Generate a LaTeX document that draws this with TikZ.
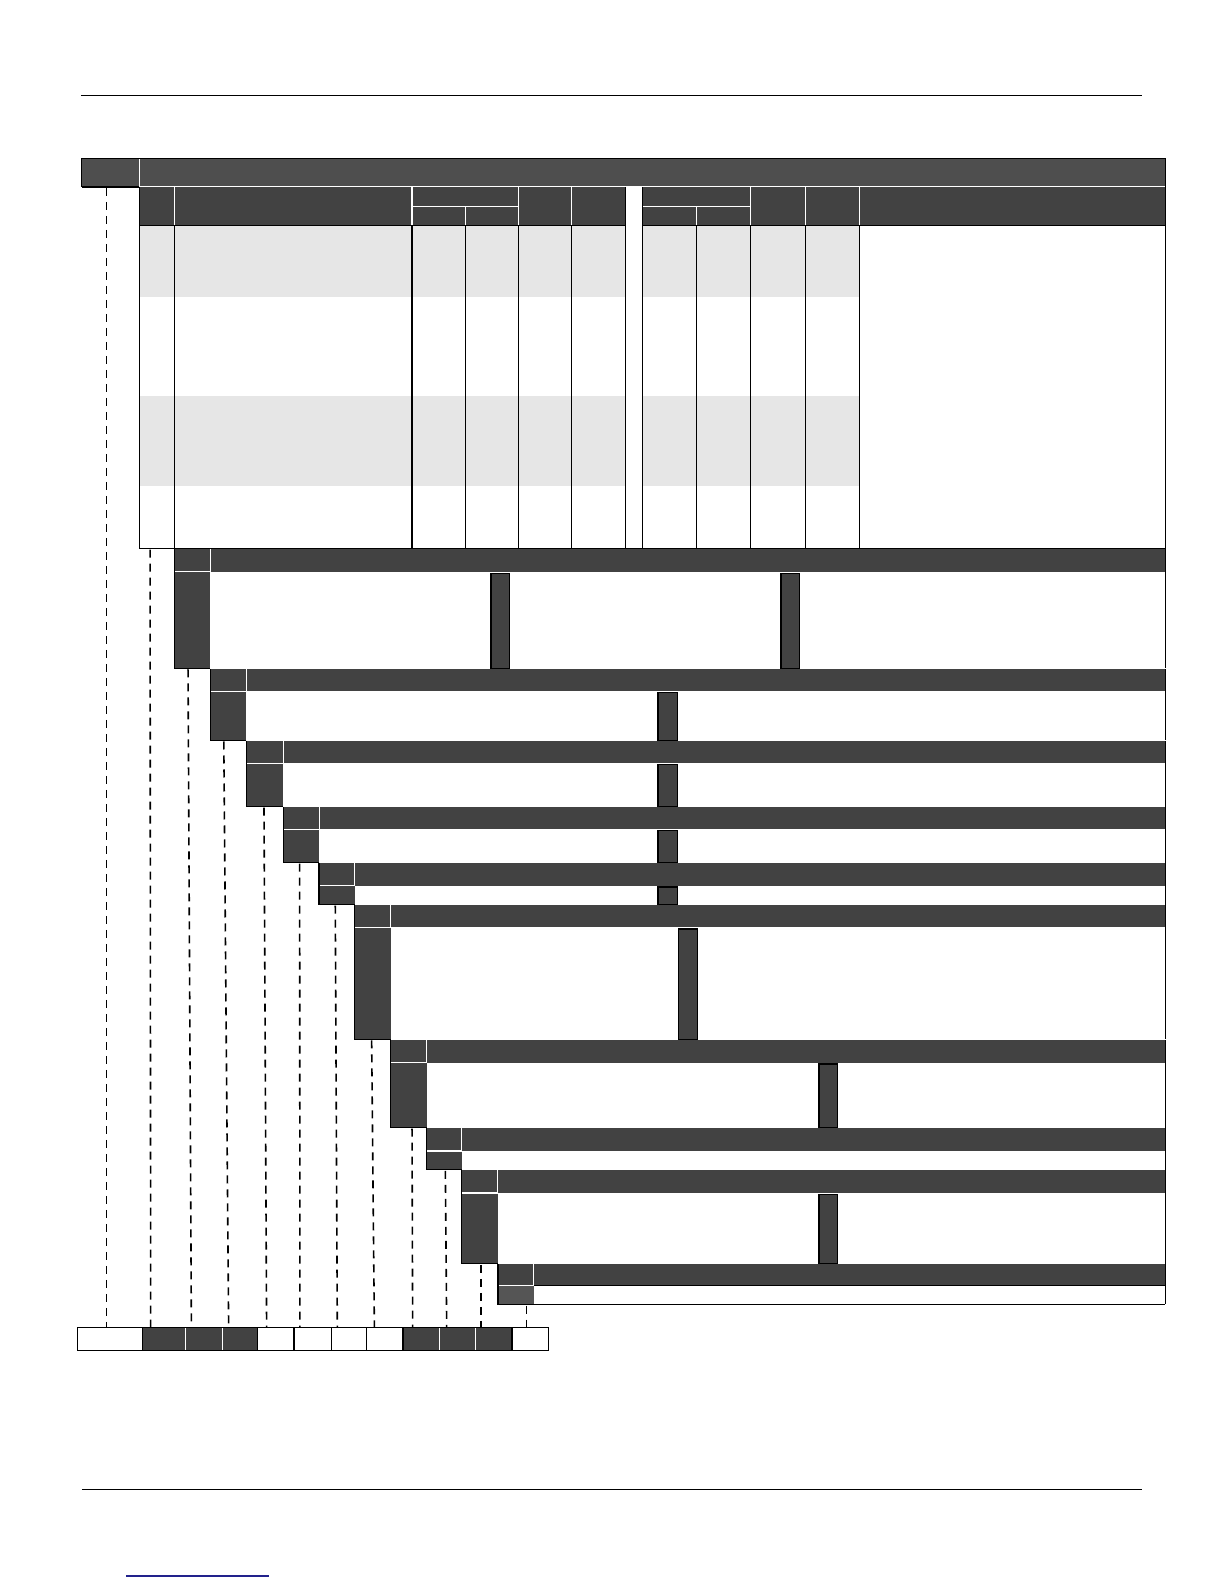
\documentclass[tikz,border=0pt]{standalone}
\usetikzlibrary{calc}
\definecolor{cellfill}{HTML}{424242}
\definecolor{barfill}{HTML}{4E4E4E}
\definecolor{lastfill}{HTML}{555555}
\definecolor{rowshade}{HTML}{E6E6E6}
\definecolor{linkblue}{HTML}{22228C}
\tikzset{
  pagerule/.style={draw=black, line width=0.5pt},
  edge/.style={draw=black, line width=0.65pt},
  split/.style={draw=white, line width=0.6pt},
  innerbar/.style={fill=cellfill, draw=black, line width=0.65pt},
  guide/.style={draw=black, line width=0.8pt, dash pattern=on 4pt off 3pt},
}

\begin{document}
\begin{tikzpicture}[x=0.50495pt, y=-0.5051pt]
                \useasboundingbox (0,0) rectangle (1212,1568);
                \draw[pagerule] (80,95) -- (1131,95);
                \draw[pagerule] (81,1474) -- (1131,1474);
                \draw[linkblue, line width=0.6pt] (125,1560) -- (266,1560);

                \fill[barfill] (81,157) rectangle (1154,185);
                \draw[split] (138,157) -- (138,185);
                \draw[edge] (81,185) -- (81,157) -- (1154,157) -- (1154,543);
                \draw[edge] (81,185) -- (138,185);

                \fill[cellfill] (138,185) rectangle (619.5,223);
                \fill[cellfill] (636.2,185) rectangle (1154,223);
                \foreach \ya/\yb in {223/293.8, 391.8/481.2} {
                    \fill[rowshade] (138,\ya) rectangle (619.5,\yb);
                    \fill[rowshade] (636.2,\ya) rectangle (851.1,\yb);
                }
                \draw[split] (138,185) -- (1154,185);
                \foreach \x in {172.6,408,513.2,566.1,743,797.9,851.1}
                    \draw[split] (\x,185) -- (\x,223);
                \draw[split] (408,204.6) -- (513.2,204.6) (636.2,204.6) -- (743,204.6);
                \draw[split] (460.8,204.6) -- (460.8,223) (689.8,204.6) -- (689.8,223);
                \draw[edge] (138,223) -- (619.5,223) (636.2,223) -- (1154,223);
                \foreach \x in {172.6,408,460.8,513.2,566.1,689.8,743,797.9,851.1}
                    \draw[edge] (\x,223) -- (\x,543);
                \foreach \x in {619.5,636.2}
                    \draw[edge] (\x,185) -- (\x,543);
                \draw[edge] (138,185) -- (138,543) -- (1154,543);

                \foreach \i/\xa/\xb/\ya/\ym/\yb/\c in {1/172.6/208.3/543/566.1/661.5/cellfill,
                        2/208.3/244/662.4/684.3/732.9/cellfill, 3/244/280.5/733.4/755.4/798.4/cellfill,
                        4/280.5/316/798.8/821/854/cellfill, 5/316/351.2/854.2/876.8/895.5/cellfill,
                        6/351.2/386.8/896/918/1028.8/cellfill, 7/386.8/422.5/1029.8/1052/1116.2/cellfill,
                        8/422.5/457/1116.9/1139.4/1158/cellfill, 9/457/493/1158.5/1181/1251/cellfill,
                        10/493/528.5/1251.6/1272.6/1291.3/lastfill} {
                    \fill[cellfill] (\xa,\ya) rectangle (1154,\ym);
                    \fill[\c] (\xa,\ym) rectangle (\xb,\yb);
                    \draw[split] (\xb,\ya) -- (\xb,\ym) (\xa,\ym) -- (\xb,\ym);
                    \draw[edge] (\xa,\ya) -- (\xa,\yb) -- (\xb,\yb);
                    \draw[edge] (1154,\ya) -- (1154,\yb);
                }
                \draw[edge] (528.5,1272.6) -- (1154,1272.6) (528.5,1291.3) -- (1154,1291.3);

                \foreach \ya/\yb/\xa/\xb in {567.4/661.5/486.2/504.7, 567.4/661.5/773.3/791.9,
                        685.2/732.9/651.6/671, 756.5/798.4/651.6/671, 822/854/651.6/671,
                        878/895.5/651.6/671, 919.5/1028.8/672/690.5,
                        1053.2/1116.2/811/829.5, 1182.3/1251/811/829.5}
                    \filldraw[innerbar] (\xa,\ya) rectangle (\xb,\yb);

                \foreach \i/\xa/\xb/\c in {1/77/141/white, 2/141/184/cellfill, 3/184/220/cellfill,
                        4/220/255/cellfill, 5/255/291/white, 6/291/328/white, 7/328/363/white,
                        8/363/399/white, 9/399/435/cellfill, 10/435/471/cellfill,
                        11/471/507/cellfill, 12/507/543/white}
                    \filldraw[edge, fill=\c] (\xa,1314) rectangle (\xb,1337);
                \foreach \x in {184,220,435,471}
                    \draw[split] (\x,1314.6) -- (\x,1336.4);

                \foreach \i/\xt/\yt/\xs in {1/105.4/186/105.4, 2/148.6/544/149.2, 3/186.2/662.5/189.5,
                        4/221.6/734/226.4, 5/261.4/799.4/264, 6/296.7/855/297, 7/332/896.5/334,
                        8/368/1029.8/370.7, 9/408/1117.2/408.6, 10/441/1159/442.3,
                        11/476/1252/476, 12/521.5/1292.3/521.5} {
                    \coordinate (k\i) at (\xt,\yt);
                    \coordinate (s\i) at (\xs,1314);
                    \draw[guide] (k\i) -- (s\i);
                }
            \end{tikzpicture}
\end{document}
